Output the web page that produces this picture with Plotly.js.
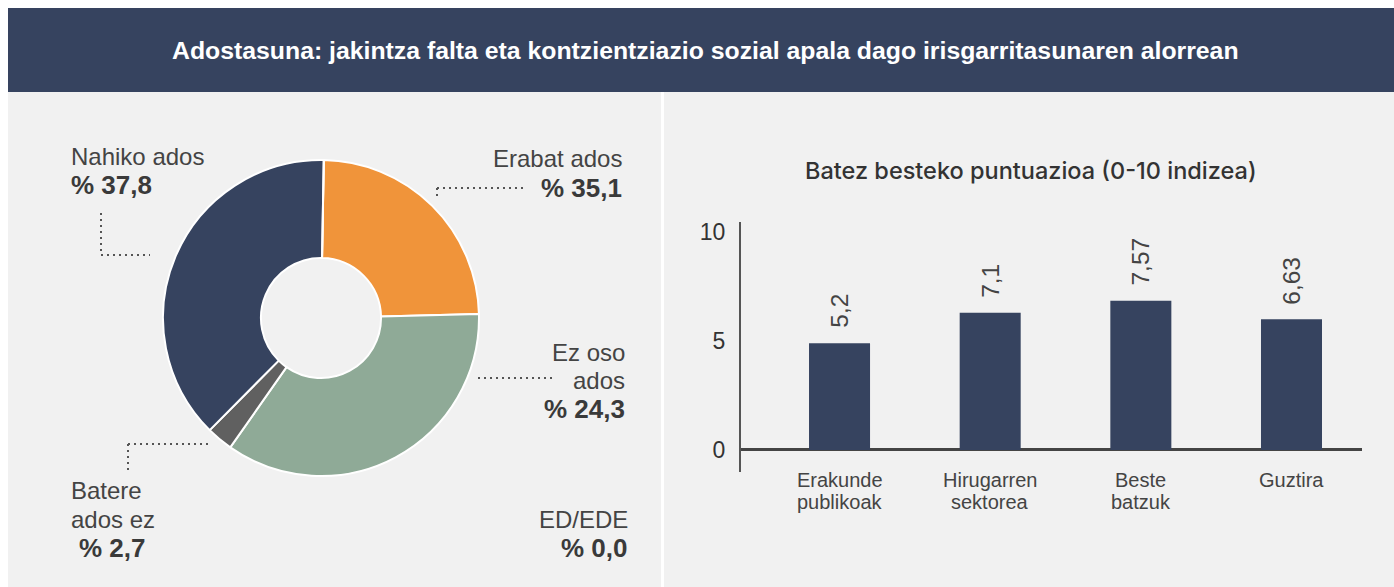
<!DOCTYPE html>
<html>
<head>
<meta charset="utf-8">
<script src="https://cdn.plot.ly/plotly-3.0.1.min.js"></script>
<style>
  html, body { margin: 0; padding: 0; background: #ffffff; }
  #chart { width: 1394px; height: 587px; }
</style>
</head>
<body>
<div id="chart"></div>
<script>
// ---- Data ----
const mainTitle = "Adostasuna: jakintza falta eta kontzientziazio sozial apala dago irisgarritasunaren alorrean";

// Donut: slices in drawing order (clockwise from 12 o'clock)
const sliceNames = ["Erabat ados", "Ez oso ados", "Batere ados ez", "Nahiko ados", "ED/EDE"];
const sliceValues = [24.3, 35.1, 2.7, 37.8, 0.0];
const sliceColors = ["#f0943a", "#8faa97", "#606060", "#36435f", "#bbbbbb"];
// Printed labels beside the donut
const pieLabelTexts = ["Erabat ados", "Ez oso<br>ados", "Batere<br>ados ez", "Nahiko ados", "ED/EDE"];
const piePercentTexts = ["% 35,1", "% 24,3", "% 2,7", "% 37,8", "% 0,0"];

// Bar chart
const barTitle = "Batez besteko puntuazioa (0-10 indizea)";
const barCategories = ["Erakunde<br>publikoak", "Hirugarren<br>sektorea", "Beste<br>batzuk", "Guztira"];
const barValues = [4.9, 6.3, 6.85, 6.0];
const barLabels = ["5,2", "7,1", "7,57", "6,63"];
const yTickVals = [0, 5, 10];
const yTickText = ["0", "5", "10"];

// ---- Geometry helpers (page pixels -> paper fractions) ----
const W = 1394, H = 587;
const px = x => x / W;
const py = y => 1 - y / H;

const NAVY = "#36435f";
const PANEL = "#f1f1f1";
const TXT = "#444444";
const FONT = "Liberation Sans, Arial, sans-serif";

const traces = [
  {
    type: "pie",
    labels: sliceNames,
    values: sliceValues,
    marker: { colors: sliceColors, line: { color: "#ffffff", width: 2 } },
    hole: 0.38,
    sort: false,
    direction: "clockwise",
    rotation: 1,
    textinfo: "none",
    hoverinfo: "label+value",
    showlegend: false,
    domain: { x: [px(163), px(479)], y: [py(476), py(160)] }
  },
  {
    type: "bar",
    x: barCategories,
    y: barValues,
    marker: { color: NAVY },
    hoverinfo: "x+y",
    showlegend: false,
    xaxis: "x",
    yaxis: "y"
  }
];

const annotations = [];
// main title
annotations.push({
  xref: "paper", yref: "paper", x: px(705), y: py(51),
  xanchor: "center", yanchor: "middle", showarrow: false,
  text: "<b>" + mainTitle + "</b>",
  font: { family: FONT, size: 24.8, color: "#ffffff" }
});
// bar chart title
annotations.push({
  xref: "paper", yref: "paper", x: px(1031), y: py(170),
  xanchor: "center", yanchor: "middle", showarrow: false,
  text: barTitle,
  font: { family: "Inter, Liberation Sans, sans-serif", size: 23.5, weight: 500, color: "#333333" }
});

// pie labels: [first line x, first line y, anchor, percent x, percent y]
const LINE = 29;
const labelPos = [
  [621, 158, "right", 621, 188],
  [624, 352, "right", 624, 409],
  [72, 490, "left", 80, 548],
  [72, 156, "left", 72, 185],
  [627, 519, "right", 627, 548]
];
for (let i = 0; i < sliceNames.length; i++) {
  const p = labelPos[i];
  const shift = p[2] === "left" ? -3 : 3;
  const lines = pieLabelTexts[i].split("<br>");
  lines.forEach((ln, k) => {
    annotations.push({
      xref: "paper", yref: "paper", x: px(p[0] + shift), y: py(p[1] + k * LINE),
      xanchor: p[2], yanchor: "middle", align: p[2], showarrow: false,
      text: ln,
      font: { family: FONT, size: 24, color: TXT }
    });
  });
  annotations.push({
    xref: "paper", yref: "paper", x: px(p[3] + shift), y: py(p[4]),
    xanchor: p[2], yanchor: "middle", align: p[2], showarrow: false,
    text: "<b>" + piePercentTexts[i] + "</b>",
    font: { family: FONT, size: 26, color: "#3a3a3a" }
  });
}

// bar value labels (rotated)
for (let i = 0; i < barCategories.length; i++) {
  annotations.push({
    xref: "x", yref: "y", x: barCategories[i], y: barValues[i],
    xanchor: "center", yanchor: "bottom", yshift: 13,
    textangle: -90, showarrow: false,
    text: barLabels[i],
    font: { family: FONT, size: 24.5, color: TXT }
  });
}
// category labels (each line placed separately for tight line spacing)
const CAT_LINE = 22;
for (let i = 0; i < barCategories.length; i++) {
  barCategories[i].split("<br>").forEach((ln, k) => {
    annotations.push({
      xref: "x", yref: "paper", x: barCategories[i], y: py(480 + k * CAT_LINE),
      xanchor: "center", yanchor: "middle", showarrow: false,
      text: ln,
      font: { family: FONT, size: 20, color: TXT }
    });
  });
}

// shapes: backgrounds and dotted leader lines
const rect = (x0, y0, x1, y1, color) => ({
  type: "rect", xref: "paper", yref: "paper", layer: "below",
  x0: px(x0), x1: px(x1), y0: py(y1), y1: py(y0),
  fillcolor: color, line: { width: 0 }
});
const dots = (x0, y0, x1, y1) => ({
  type: "line", xref: "paper", yref: "paper",
  x0: px(x0), y0: py(y0), x1: px(x1), y1: py(y1),
  line: { color: "#555555", width: 2, dash: "2px,4px" }
});
const shapes = [
  rect(8, 8, W, 92, NAVY),
  rect(8, 92, 661, H, PANEL),
  rect(664, 92, W, H, PANEL),
  // Nahiko ados
  dots(101, 213, 101, 255), dots(101, 255, 150, 255),
  // Erabat ados
  dots(437, 188, 527, 188), dots(437, 188, 437, 199),
  // Ez oso ados
  dots(478, 378, 555, 378),
  // Batere ados ez
  dots(128, 444, 212, 444), dots(128, 444, 128, 471)
];

const layout = {
  width: W, height: H,
  margin: { l: 0, r: 0, t: 0, b: 0, pad: 0 },
  paper_bgcolor: "#ffffff",
  plot_bgcolor: "rgba(0,0,0,0)",
  showlegend: false,
  bargap: 0.595,
  xaxis: {
    domain: [px(741), px(1362)],
    anchor: "y",
    type: "category",
    range: [-0.654, 3.468],
    showgrid: false, zeroline: false, showline: false,
    ticks: "", showticklabels: false,
    fixedrange: true
  },
  yaxis: {
    domain: [py(472), py(222)],
    anchor: "x",
    range: [-1.01, 10.46],
    tickvals: yTickVals, ticktext: yTickText,
    showgrid: false,
    zeroline: true, zerolinecolor: "#444444", zerolinewidth: 3,
    showline: true, linecolor: "#555555", linewidth: 2,
    ticks: "", ticklabelstandoff: 9,
    tickfont: { family: FONT, size: 23, color: "#333333" },
    fixedrange: true
  },
  annotations: annotations,
  shapes: shapes
};

Plotly.newPlot("chart", traces, layout, { displayModeBar: false, staticPlot: true });
</script>
</body>
</html>
